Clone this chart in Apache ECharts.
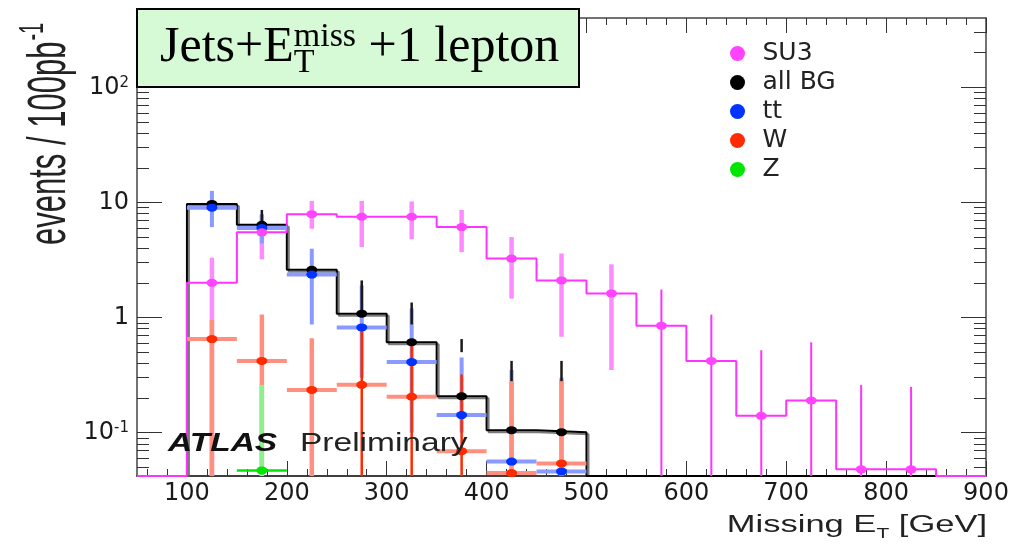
<!DOCTYPE html>
<html><head><meta charset="utf-8">
<script src="https://cdn.jsdelivr.net/npm/echarts@6/dist/echarts.min.js"></script>
<style>html,body{margin:0;padding:0;background:#fff}#c{width:1026px;height:545px}</style>
</head><body><div id="c"></div>
<script>
// ---------------- data ----------------
const binEdges   = [100,150,200,250,300,350,400,450,500,550,600,650,700,750,800,850];
const binCenters = [125,175,225,275,325,375,425,475,525,575,625,675,725,775,825];

// SU3 signal (events / 100 pb^-1), 15 bins
const su3   = [2.0, 5.5, 7.9, 7.5, 7.5, 6.1, 3.25, 2.1, 1.62, 0.85, 0.42, 0.14, 0.19, 0.048, 0.048];
const su3Hi = [3.3, 7.8, 10.3, 10.3, 10.2, 8.6, 5.0, 3.6, 2.9, 1.75, 1.06, 0.52, 0.61, 0.26, 0.25];
const su3Lo = [0, 3.2, 5.9, 4.1, 4.8, 3.7, 1.46, 0.68, 0.35, 0, 0, 0, 0, 0, 0];

// all background, 15 bins (empty above 500 GeV); visible part of its error bars
const allBG   = [9.7, 6.4, 2.6, 1.08, 0.61, 0.207, 0.105, 0.101, 0, 0, 0, 0, 0, 0, 0];
const allBGHi = [9.7, 8.6, 2.6, 2.1, 1.35, 0.65, 0.42, 0.42, 0, 0, 0, 0, 0, 0, 0];
const allBGLo = [9.7, 6.4, 2.6, 1.08, 0.87, 0.5, 0.28, 0.28, 0, 0, 0, 0, 0, 0, 0];

// ttbar
const tt   = [9.0, 6.0, 2.36, 0.82, 0.41, 0.142, 0.056, 0.046];
const ttHi = [12.6, 7.9, 3.96, 1.9, 1.2, 0.45, 0.35, 0.3];
const ttLo = [6.1, 4.4, 0.87, 0.3, 0.1, 0.1, 0.056, 0.046];

// W
const wj   = [0.65, 0.42, 0.235, 0.26, 0.205, 0.069, 0.0445, 0.054];
const wjHi = [0.95, 1.06, 0.66, 0.76, 0.62, 0.32, 0.28, 0.29];
const wjLo = [0, 0, 0, 0, 0, 0, 0, 0];

// Z
const zj   = [0, 0.047, 0, 0, 0, 0, 0, 0];
const zjHi = [0, 0.26, 0, 0, 0, 0, 0, 0];
const zjLo = [0, 0, 0, 0, 0, 0, 0, 0];

const legendNames = ['SU3', 'all BG', 'tt', 'W', 'Z'];
const xTickLabels = [100, 200, 300, 400, 500, 600, 700, 800, 900];
const yTickLabels = [0.1, 1, 10, 100];

// ---------------- axes ranges / ticks ----------------
const X_MIN = 50, X_MAX = 900, Y_MIN = 0.042, Y_MAX = 400;
const LOG_MIN = Math.log10(Y_MIN), LOG_MAX = Math.log10(Y_MAX);
const xMinor = [];
for (let v = 60; v < X_MAX; v += 20) if (v % 100 !== 0) xMinor.push(v);
const yMinorLog = [];
for (let d = -2; d <= 2; d++) for (let k = 2; k <= 9; k++) {
  const v = k * Math.pow(10, d);
  if (v > Y_MIN * 1.001 && v < Y_MAX * 0.999) yMinorLog.push(Math.log10(v));
}
const yMajorLog = yTickLabels.map(v => Math.log10(v));

// ---------------- helpers ----------------
const ELL = 'path://M0,5a5,5 0 1,0 10,0a5,5 0 1,0 -10,0z';
const FLOOR = Y_MIN;

function histPoints(vals, leftPad, rightPad) {
  const pts = [];
  if (leftPad != null) pts.push([leftPad, FLOOR]);
  pts.push([binEdges[0], FLOOR]);
  vals.forEach((v, i) => pts.push([binEdges[i], v > 0 ? v : FLOOR]));
  pts.push([binEdges[vals.length], FLOOR]);
  if (rightPad != null) pts.push([rightPad, FLOOR]);
  return pts;
}
function errData(vals, lo, hi) {
  const out = [];
  vals.forEach((v, i) => { if (v > 0) out.push([binCenters[i], v, lo[i], hi[i], binEdges[i], binEdges[i + 1], i]); });
  return out;
}
function ptData(vals) {
  const out = [];
  vals.forEach((v, i) => { if (v > 0) out.push([binCenters[i], v]); });
  return out;
}
function errSeries(name, data, styleFn) {
  return {
    type: 'custom', name: name, data: data, encode: { x: 0, y: 1 }, silent: true, z: 3,
    renderItem: function (params, api) {
      const cs = params.coordSys;
      const top = cs.y, bot = cs.y + cs.height;
      const x = api.value(0), y = api.value(1), lo = api.value(2), hi = api.value(3);
      const xl = api.value(4), xh = api.value(5), bi = api.value(6);
      const c = api.coord([x, y]);
      const yHi = hi > 0 ? Math.max(top, api.coord([x, hi])[1]) : c[1];
      const yLo = lo > 0 ? Math.min(bot, api.coord([x, lo])[1]) : bot;
      const st = styleFn(bi);
      const ch = [];
      if (st.h) {
        const a = api.coord([xl, y]), b = api.coord([xh, y]);
        ch.push({ type: 'line', shape: { x1: a[0], y1: c[1], x2: b[0], y2: c[1] }, style: { stroke: st.h, lineWidth: st.hw } });
      }
      if (yLo - yHi > 0.5) ch.push({ type: 'line', shape: { x1: c[0], y1: yHi, x2: c[0], y2: yLo }, style: { stroke: st.v, lineWidth: st.vw } });
      return { type: 'group', children: ch };
    }
  };
}
function ptSeries(name, data, color) {
  return { type: 'scatter', name: name, data: data, symbol: ELL, symbolSize: [11, 8], itemStyle: { color: color, opacity: 1 }, z: 4, silent: true };
}

// text measuring for graphic texts
const mctx = document.createElement('canvas').getContext('2d');
function fontStr(size, fam, weight, style) { return (style || 'normal') + ' ' + (weight || 'normal') + ' ' + size + 'px "' + fam + '"'; }
function tw(str, size, fam, weight, style) { mctx.font = fontStr(size, fam, weight, style); return mctx.measureText(str).width; }
function txt(x, base, str, size, fam, o) {
  o = o || {};
  return { type: 'text', x: x, y: base - 0.34 * size, silent: true, z: 110,
    style: { text: str, font: fontStr(size, fam, o.weight, o.style), fill: o.fill || '#000',
      align: 'left', verticalAlign: 'middle', textAlign: 'left', textVerticalAlign: 'middle' } };
}

// ----- title box: Jets+E_T^miss +1 lepton -----
const SERIF = 'Liberation Serif';
const tMain = 50, tSmall = 34, tBase = 65, tX = 160;
const w1 = tw('Jets+E', tMain, SERIF);
const wSub = tw('T', tSmall, SERIF), wSup = tw('miss', tSmall, SERIF);
const titleChildren = [
  txt(tX, tBase, 'Jets+E', tMain, SERIF),
  txt(tX + w1, tBase + 10, 'T', tSmall, SERIF),
  txt(tX + w1, tBase - 16, 'miss', tSmall, SERIF),
  txt(tX + w1 + Math.max(wSub, wSup), tBase, ' +1 lepton', tMain, SERIF)
];

// ----- x axis title -----
const SANS = 'Liberation Sans';
const xtS = 23, xtSub = 14, xtScale = 1.5;
const xa = tw('Missing E', xtS, SANS), xb = tw('T', xtSub, SANS), xc = tw(' [GeV]', xtS, SANS);
const xtW = (xa + xb + xc) * xtScale;
const xTitle = { type: 'group', x: 987 - xtW, y: 0, scaleX: xtScale, z: 110, children: [
  txt(0, 533, 'Missing E', xtS, SANS, { fill: '#222' }),
  txt(xa, 539, 'T', xtSub, SANS, { fill: '#222' }),
  txt(xa + xb, 533, ' [GeV]', xtS, SANS, { fill: '#222' })
] };

// ----- y axis title (rotated) -----
const ytS = 31, ytSup = 20;
const ya = tw('events / 100pb', ytS, SANS);
const yTitle = { type: 'group', x: 68, y: 245, rotation: Math.PI / 2, scaleY: 1.75, z: 110, children: [
  txt(0, 0, 'events / 100pb', ytS, SANS, { fill: '#222' }),
  txt(ya + 1, -13, '-1', ytSup, SANS, { fill: '#222' })
] };

// ----- ATLAS Preliminary -----
const atlas = { type: 'group', x: 168, y: 0, scaleX: 1.34, z: 110, children: [
  txt(0, 453, 'ATLAS', 25, SANS, { weight: 'bold', style: 'italic', fill: '#111' }),
  txt((300 - 168) / 1.34, 453, 'Preliminary', 25, SANS, { fill: '#222' })
] };

// ---------------- option ----------------
const tickStyle = { color: '#333', width: 1 };
const frameStyle = { color: '#444', width: 1.5 };
const TICKFONT = 'DejaVu Sans';

function minorX(pos, showLine, len, vals) {
  return { type: 'value', min: X_MIN, max: X_MAX, position: pos,
    axisLine: { show: showLine, onZero: false, lineStyle: pos === 'bottom' ? { color: '#000', width: 1.5 } : frameStyle },
    axisTick: { show: true, inside: true, length: len, customValues: vals, lineStyle: tickStyle },
    axisLabel: { show: false }, splitLine: { show: false } };
}
function logTickY(pos, showLine, len, vals) {
  return { type: 'value', min: LOG_MIN, max: LOG_MAX, position: pos,
    axisLine: { show: showLine, onZero: false, lineStyle: frameStyle },
    axisTick: { show: true, inside: true, length: len, customValues: vals, lineStyle: tickStyle },
    axisLabel: { show: false }, splitLine: { show: false } };
}

const option = {
  animation: false,
  backgroundColor: '#ffffff',
  grid: { left: 137, right: 40, top: 18, bottom: 69, containLabel: false },
  legend: {
    data: legendNames, orient: 'vertical', left: 725, top: 34, icon: ELL,
    itemWidth: 20, itemHeight: 15, itemGap: 0, selectedMode: false,
    textStyle: { fontFamily: TICKFONT, fontSize: 25, color: '#222', lineHeight: 29, padding: [0, 0, 0, 10] }
  },
  xAxis: [
    { type: 'value', min: X_MIN, max: X_MAX, position: 'bottom',
      axisLine: { show: true, onZero: false, lineStyle: { color: '#000', width: 1.5 } },
      axisTick: { show: true, inside: true, length: 15, customValues: xTickLabels, lineStyle: tickStyle },
      axisLabel: { customValues: xTickLabels, margin: 6, fontFamily: TICKFONT, fontSize: 24, color: '#1a1a1a' },
      splitLine: { show: false } },
    minorX('bottom', false, 7, xMinor),
    minorX('top', true, 15, xTickLabels),
    minorX('top', false, 7, xMinor)
  ],
  yAxis: [
    { type: 'log', logBase: 10, min: Y_MIN, max: Y_MAX, position: 'left',
      axisLine: { show: true, onZero: false, lineStyle: frameStyle },
      axisTick: { show: true, inside: true, length: 25, lineStyle: tickStyle },
      minorTick: { show: false },
      axisLabel: {
        showMinLabel: false, showMaxLabel: false, margin: 8,
        formatter: function (v) {
          const l = Math.log10(v), e = Math.round(l);
          if (Math.abs(l - e) > 1e-6 || !yTickLabels.some(t => Math.abs(Math.log10(t) - e) < 1e-6)) return '';
          if (e === 0) return '{b|1}';
          if (e === 1) return '{b|10}';
          return '{b|10}{s|' + e + '}';
        },
        rich: {
          b: { fontFamily: TICKFONT, fontSize: 24, color: '#1a1a1a' },
          s: { fontFamily: TICKFONT, fontSize: 15, color: '#1a1a1a', verticalAlign: 'top' }
        }
      },
      splitLine: { show: false } },
    logTickY('left', false, 12, yMinorLog),
    logTickY('right', true, 25, yMajorLog),
    logTickY('right', false, 12, yMinorLog)
  ],
  graphic: [
    { type: 'rect', shape: { x: 137, y: 9, width: 442, height: 78 }, style: { fill: '#d5fad5', stroke: '#000', lineWidth: 2 }, z: 100 },
    { type: 'group', z: 110, children: titleChildren },
    xTitle, yTitle, atlas
  ],
  series: [
    { type: 'line', name: 'all BG hist', data: histPoints(allBG), step: 'end', symbol: 'none', silent: true, z: 2,
      lineStyle: { color: '#000', width: 2, shadowColor: 'rgba(90,90,90,0.8)', shadowOffsetX: 2, shadowOffsetY: 2, shadowBlur: 0 } },
    { type: 'line', name: 'SU3 hist', data: histPoints(su3, X_MIN, X_MAX), step: 'end', symbol: 'none', silent: true, z: 2,
      lineStyle: { color: '#ff33ff', width: 2 } },
    errSeries('SU3 err', errData(su3, su3Lo, su3Hi), i => i <= 8 ? { v: '#ff8cff', vw: 4.5 } : { v: '#ff33ff', vw: 2 }),
    errSeries('tt err', errData(tt, ttLo, ttHi), i => ({ v: '#8a9aff', vw: 4, h: '#8a9aff', hw: 4 })),
    errSeries('W err', errData(wj, wjLo, wjHi), i => (i >= 3 && i <= 5)
      ? { v: '#ff2a00', vw: 2.5, h: '#ff9080', hw: 4 }
      : { v: '#ff9080', vw: 4.5, h: '#ff9080', hw: 4 }),
    errSeries('Z err', errData(zj, zjLo, zjHi), i => ({ v: '#8cf08c', vw: 4.5, h: '#00e600', hw: 2.5 })),
    errSeries('all BG err', errData(allBG, allBGLo, allBGHi), i => ({ v: '#1a1a1a', vw: 2.5 })),
    ptSeries('all BG', ptData(allBG), '#000000'),
    ptSeries('tt', ptData(tt), '#0033ff'),
    ptSeries('W', ptData(wj), '#ff2a00'),
    ptSeries('Z', ptData(zj), '#00e600'),
    ptSeries('SU3', ptData(su3), '#ff44ff')
  ]
};

const chart = echarts.init(document.getElementById('c'), null, { renderer: 'canvas' });
chart.setOption(option);
</script>
</body></html>
